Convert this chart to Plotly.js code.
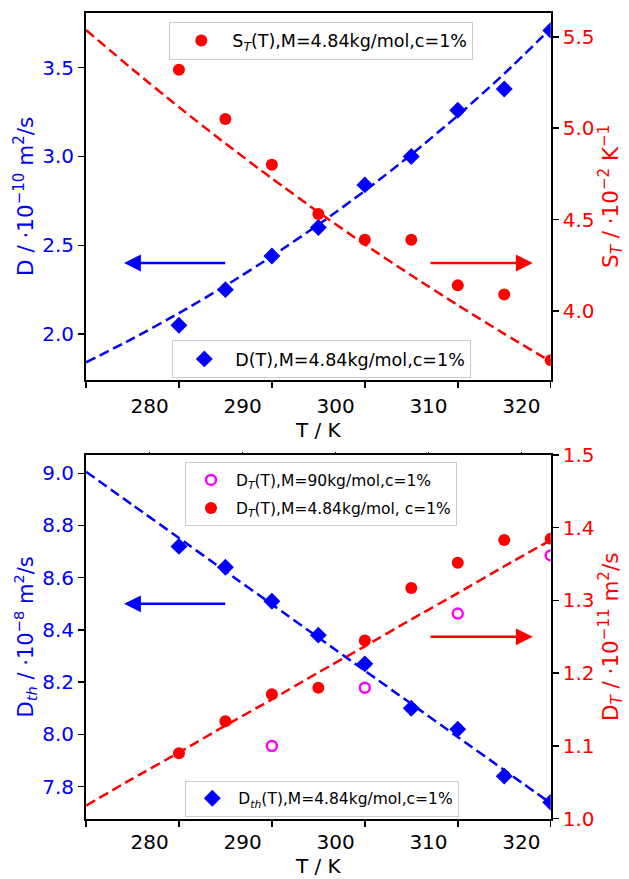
<!DOCTYPE html>
<html>
<head>
<meta charset="utf-8">
<script src="https://cdn.plot.ly/plotly-3.0.1.min.js"></script>
<style>html,body{margin:0;padding:0;background:#fff;}#chart{width:629px;height:879px;}</style>
</head>
<body>
<div id="chart"></div>
<script>
// ---------- data ----------
const T_data = [283.15, 288.15, 293.15, 298.15, 303.15, 308.15, 313.15, 318.15, 323.15];
const T_fit  = [273.15, 278.15, 283.15, 288.15, 293.15, 298.15, 303.15, 308.15, 313.15, 318.15, 323.15];
const T_90   = [293.15, 303.15, 313.15, 323.15];

// top panel
const D_vals   = [2.05, 2.25, 2.44, 2.60, 2.84, 3.00, 3.26, 3.38, 3.71];
const ST_vals  = [5.32, 5.05, 4.80, 4.53, 4.39, 4.39, 4.14, 4.09, 3.73];
const D_fit    = [1.840, 1.974, 2.118, 2.272, 2.438, 2.616, 2.806, 3.011, 3.230, 3.466, 3.720];
const ST_fit   = [5.537, 5.322, 5.115, 4.916, 4.725, 4.541, 4.364, 4.195, 4.032, 3.875, 3.723];

// bottom panel
const Dth_vals   = [8.72, 8.64, 8.51, 8.38, 8.27, 8.10, 8.02, 7.84, 7.74];
const DT484_vals = [1.090, 1.134, 1.171, 1.180, 1.245, 1.317, 1.352, 1.383, 1.385];
const DT90_vals  = [1.100, 1.180, 1.282, 1.362];
const Dth_fit    = [9.006, 8.879, 8.752, 8.625, 8.498, 8.371, 8.244, 8.117, 7.990, 7.863, 7.736];
const DT_fit     = [1.018, 1.055, 1.091, 1.128, 1.164, 1.201, 1.237, 1.274, 1.310, 1.347, 1.383];

// ticks
const xTickMarks  = [273.15, 283.15, 293.15, 303.15, 313.15, 323.15];
const xLabelVals  = [280, 290, 300, 310, 320];
const yTopLeftTicks   = [2.0, 2.5, 3.0, 3.5];
const yTopRightTicks  = [4.0, 4.5, 5.0, 5.5];
const yBotLeftTicks   = [7.8, 8.0, 8.2, 8.4, 8.6, 8.8, 9.0];
const yBotRightTicks  = [1.0, 1.1, 1.2, 1.3, 1.4, 1.5];

// labels
const lbl_ST   = 'S<sub><i>T</i></sub>(T),M=4.84kg/mol,c=1%';
const lbl_D    = 'D(T),M=4.84kg/mol,c=1%';
const lbl_DT90 = 'D<sub><i>T</i></sub>(T),M=90kg/mol,c=1%';
const lbl_DT484= 'D<sub><i>T</i></sub>(T),M=4.84kg/mol, c=1%';
const lbl_Dth  = 'D<sub><i>th</i></sub>(T),M=4.84kg/mol,c=1%';

// ---------- styles ----------
const BLUE = '#0000ff', RED = '#ff0000', MAG = '#ff00ff';
const FONT = 'DejaVu Sans';
const TRANGE = [273.15, 323.15];
const dashLine = (c) => ({color: c, width: 2.5, dash: '10px,5px', shape: 'spline', smoothing: 0.6});

const traces = [
  {x: T_fit, y: D_fit, xaxis: 'x', yaxis: 'y', mode: 'lines', line: dashLine(BLUE), showlegend: false, hoverinfo: 'skip'},
  {x: T_fit, y: ST_fit, xaxis: 'x', yaxis: 'y2', mode: 'lines', line: dashLine(RED), showlegend: false, hoverinfo: 'skip'},
  {x: T_data, y: D_vals, xaxis: 'x', yaxis: 'y', mode: 'markers', name: lbl_D, legend: 'legend2',
   marker: {symbol: 'diamond', size: 13, color: BLUE}},
  {x: T_data, y: ST_vals, xaxis: 'x', yaxis: 'y2', mode: 'markers', name: lbl_ST, legend: 'legend',
   marker: {symbol: 'circle', size: 12, color: RED}},

  {x: T_fit, y: Dth_fit, xaxis: 'x2', yaxis: 'y3', mode: 'lines', line: dashLine(BLUE), showlegend: false, hoverinfo: 'skip'},
  {x: T_fit, y: DT_fit, xaxis: 'x2', yaxis: 'y4', mode: 'lines', line: dashLine(RED), showlegend: false, hoverinfo: 'skip'},
  {x: T_data, y: Dth_vals, xaxis: 'x2', yaxis: 'y3', mode: 'markers', name: lbl_Dth, legend: 'legend4',
   marker: {symbol: 'diamond', size: 13, color: BLUE}},
  {x: T_90, y: DT90_vals, xaxis: 'x2', yaxis: 'y4', mode: 'markers', name: lbl_DT90, legend: 'legend3', legendgroup: 'g90',
   marker: {symbol: 'circle-open', size: 10, color: MAG, line: {width: 2.5, color: MAG}}},
  {x: T_data, y: DT484_vals, xaxis: 'x2', yaxis: 'y4', mode: 'markers', name: lbl_DT484, legend: 'legend3', legendgroup: 'g484',
   marker: {symbol: 'circle', size: 12, color: RED}},

  // empty carriers so the overlaid label axes are drawn
  {x: xLabelVals, y: xLabelVals.map(() => null), xaxis: 'x3', yaxis: 'y', mode: 'markers', showlegend: false, hoverinfo: 'skip'},
  {x: xLabelVals, y: xLabelVals.map(() => null), xaxis: 'x4', yaxis: 'y3', mode: 'markers', showlegend: false, hoverinfo: 'skip'},
  {x: xLabelVals, y: xLabelVals.map(() => null), xaxis: 'x5', yaxis: 'y3', mode: 'markers', showlegend: false, hoverinfo: 'skip'}
];

const XDOM = [86/629, 550.7/629];
const TOPDOM = [1 - 379.7/879, 1 - 13/879];
const BOTDOM = [1 - 818.7/879, 1 - 455/879];

function markAxis(anchor) {
  return {domain: XDOM, anchor: anchor, range: TRANGE, tickvals: xTickMarks,
    ticktext: xTickMarks.map(() => ''), ticks: 'outside', ticklen: 6, tickwidth: 1.5, tickcolor: 'black',
    showline: true, linewidth: 2, linecolor: 'black', mirror: true, showgrid: false, zeroline: false};
}
function labelAxis(over, anchor, len) {
  return {overlaying: over, anchor: anchor, range: TRANGE, tickvals: xLabelVals,
    ticktext: xLabelVals.map(String), ticks: 'outside', ticklen: len, tickcolor: 'rgba(0,0,0,0)',
    tickfont: {size: 20, color: 'black'}, showline: false, showgrid: false, zeroline: false,
    title: {text: 'T / K', font: {size: 20, color: 'black'}, standoff: 6}};
}
function yAx(dom, anchor, range, ticks, color, title, side, over, fmt, tfs, so) {
  const a = {anchor: anchor, range: range, tickvals: ticks, tickformat: fmt,
    ticks: 'outside', ticklen: 6, tickwidth: 1.5, tickcolor: 'black',
    tickfont: {size: 20, color: color}, showline: true, linewidth: 2, linecolor: 'black',
    showgrid: false, zeroline: false, side: side,
    title: {text: title, font: {size: tfs, color: color}, standoff: so}};
  if (over) a.overlaying = over; else a.domain = dom;
  return a;
}
function legendBox(x, y, fs, iw) {
  return {x: x, y: y, xanchor: 'left', yanchor: 'top', xref: 'paper', yref: 'paper',
    bgcolor: 'rgba(255,255,255,0.8)', bordercolor: '#cccccc', borderwidth: 1, itemwidth: iw,
    tracegroupgap: 5, font: {family: FONT, size: fs, color: 'black'}};
}
function arrow(xr, yr, tip, tail, y, color) {
  return {xref: xr, yref: yr, axref: xr, ayref: yr, x: tip, y: y, ax: tail, ay: y,
    text: '', showarrow: true, arrowhead: 2, arrowsize: 1.35, arrowwidth: 2.5, arrowcolor: color, standoff: 0};
}

const layout = {
  width: 629, height: 879, margin: {l: 0, r: 0, t: 0, b: 0},
  paper_bgcolor: '#ffffff', plot_bgcolor: '#ffffff',
  font: {family: FONT, size: 20, color: 'black'},
  showlegend: true,
  xaxis: markAxis('y'),
  xaxis3: labelAxis('x', 'y', 8),
  xaxis2: markAxis('y3'),
  xaxis4: labelAxis('x2', 'y3', 5),
  xaxis5: {overlaying: 'x2', anchor: 'y3', side: 'top', range: TRANGE, tickvals: xLabelVals,
    showticklabels: false, ticks: 'outside', ticklen: 2, tickwidth: 1, tickcolor: 'black',
    showline: false, showgrid: false, zeroline: false},
  yaxis: yAx(TOPDOM, 'x', [1.743, 3.808], yTopLeftTicks, BLUE,
    'D / ·10<sup>−10</sup> m<sup>2</sup>/s', 'left', null, '.1f', 21.5, 3),
  yaxis2: yAx(null, 'x', [3.624, 5.63], yTopRightTicks, RED,
    'S<sub><i>T</i></sub> / ·10<sup>−2</sup> K<sup>−1</sup>', 'right', 'y', '.1f', 21.5, 6),
  yaxis3: yAx(BOTDOM, 'x2', [7.677, 9.07], yBotLeftTicks, BLUE,
    'D<sub><i>th</i></sub> / ·10<sup>−8</sup> m<sup>2</sup>/s', 'left', null, '.1f', 21, 3),
  yaxis4: yAx(null, 'x2', [1.0, 1.5], yBotRightTicks, RED,
    'D<sub><i>T</i></sub> / ·10<sup>−11</sup> m<sup>2</sup>/s', 'right', 'y3', '.1f', 21.5, 6),
  legend: legendBox(169.3/629, 1 - 21.7/879, 17.5, 52),
  legend2: legendBox(172.3/629, 1 - 340/879, 17.5, 52),
  legend3: legendBox(185/629, 1 - 462.3/879, 15.5, 40),
  legend4: legendBox(185.3/629, 1 - 780.7/879, 15.5, 42),
  annotations: [
    arrow('x', 'y', 277.24, 288.29, 2.40, BLUE),
    arrow('x', 'y', 321.22, 310.06, 2.40, RED),
    arrow('x2', 'y3', 277.24, 288.29, 8.50, BLUE),
    arrow('x2', 'y4', 321.22, 310.06, 1.25, RED)
  ]
};

Plotly.newPlot('chart', traces, layout, {staticPlot: true, displayModeBar: false});
</script>
</body>
</html>
